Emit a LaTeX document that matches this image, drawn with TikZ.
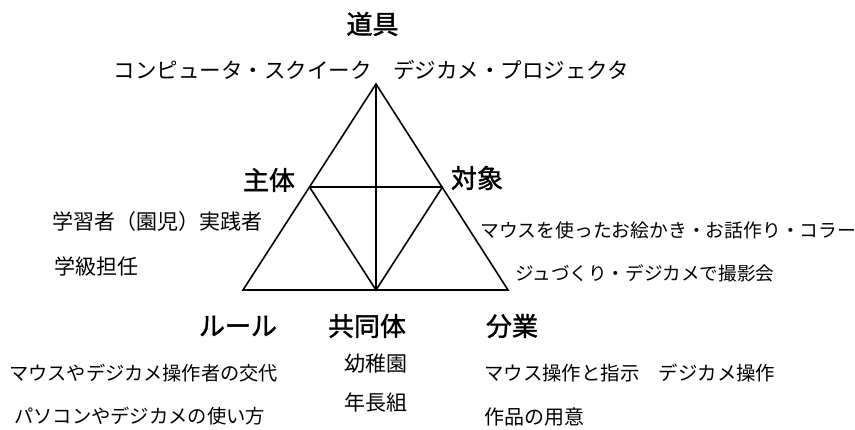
\documentclass[tikz,border=0pt]{standalone}
\usepackage{fontspec}
\newfontfamily\jp{Noto Sans CJK JP}
\newfontfamily\jpb{Noto Sans CJK JP}[FakeBold=1.5]
\tikzset{
  edge/.style={line width=1.6pt, line join=miter},
  head/.style={inner sep=0pt, font=\jpb\fontsize{26}{26}\selectfont},
  txt/.style={inner sep=0pt, font=\jp\fontsize{21}{21}\selectfont},
}
\begin{document}
\begin{tikzpicture}[x=1pt,y=-1pt]
\useasboundingbox (0,0) rectangle (855,430);
% triangle
\coordinate (A) at (376,84);
\coordinate (L) at (243,290);
\coordinate (R) at (508,290);
\coordinate (ML) at (309.5,187);
\coordinate (MR) at (442.5,187);
\coordinate (MB) at (376,290);
\draw[edge] (A) -- (L) -- (R) -- cycle;
\draw[edge] (A) -- (MB);
\draw[edge] (ML) -- (MR);
\draw[edge] (ML) -- (MB) -- (MR);
% headings
\node[head] (dogu) at (372.5,24) {道具};
\node[head] (shutai) at (269,180) {主体};
\node[head] (taisho) at (477,178) {対象};
\node[head] (rule) at (238,326) {ルール};
\node[head] (kyodo) at (367,326) {共同体};
\node[head] (bungyo) at (512,326) {分業};
% texts
\node[txt, font=\jp\fontsize{21.5}{21.5}\selectfont] (dogutxt) at (371.5,70) {コンピュータ・スクイーク　デジカメ・プロジェクタ};
\node[txt, anchor=west] (s1) at (52,222) {学習者（園児）実践者};
\node[txt, anchor=west] (s2) at (54,266) {学級担任};
\node[txt, anchor=west, font=\jp\fontsize{18.8}{18.8}\selectfont] (t1) at (480,230) {マウスを使ったお絵かき・お話作り・コラー};
\node[txt, anchor=west, font=\jp\fontsize{18.6}{18.6}\selectfont] (t2) at (515,273) {ジュづくり・デジカメで撮影会};
\node[txt, anchor=west, font=\jp\fontsize{19.2}{19.2}\selectfont] (r1) at (9,373) {マウスやデジカメ操作者の交代};
\node[txt, anchor=west, font=\jp\fontsize{19.3}{19.3}\selectfont] (r2) at (14,416) {パソコンやデジカメの使い方};
\node[txt] (k1) at (376,364) {幼稚園};
\node[txt] (k2) at (376,403) {年長組};
\node[txt, anchor=west, font=\jp\fontsize{19.4}{19.4}\selectfont] (b1) at (484,373) {マウス操作と指示　デジカメ操作};
\node[txt, anchor=west, font=\jp\fontsize{20}{20}\selectfont] (b2) at (484,417) {作品の用意};
\end{tikzpicture}
\end{document}
